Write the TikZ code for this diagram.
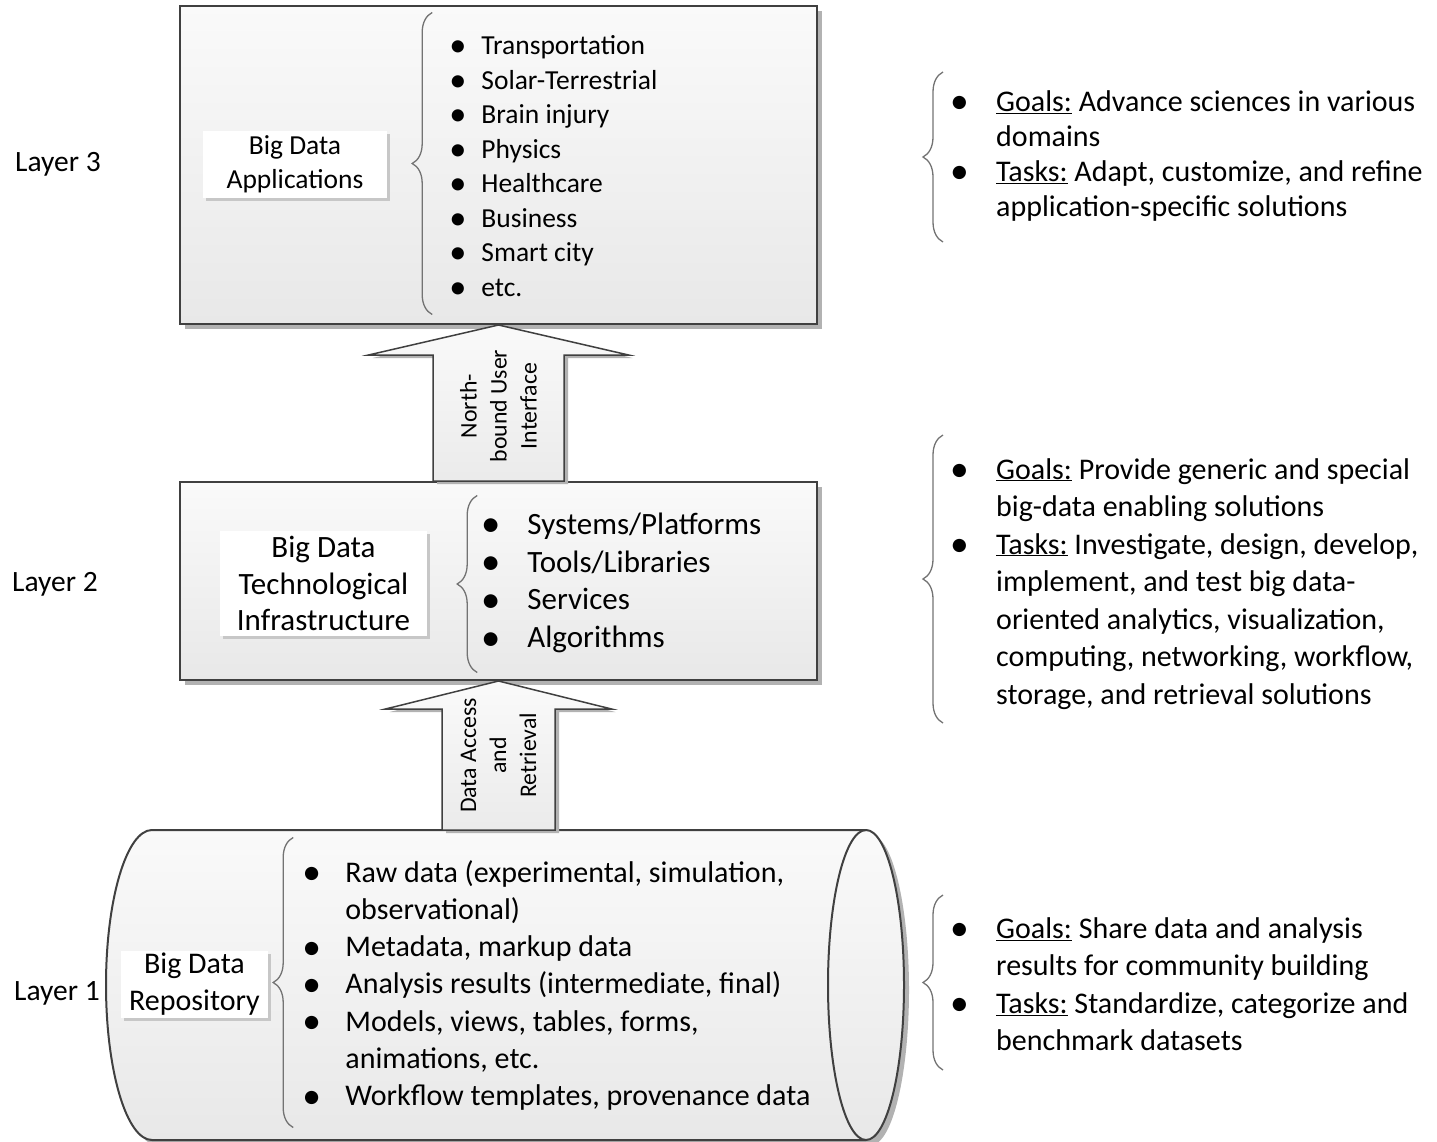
\documentclass[tikz,border=0pt]{standalone}
\usepackage{fontspec}
\setmainfont{Carlito}
\usetikzlibrary{shadows,calc,decorations.pathreplacing,positioning}
\newcommand{\bl}{\raisebox{-0.08em}{\scalebox{1.25}{\textbullet}}}

\begin{document}
\begin{tikzpicture}[x=1pt, y=-1pt,
    layerbox/.style={draw=black!75, line width=2pt, top color=black!2, bottom color=black!9,
      drop shadow={shadow xshift=5pt, shadow yshift=-5pt, fill=black!30, opacity=1}},
    namebox/.style={fill=white, align=center, inner sep=0pt,
      drop shadow={shadow xshift=3pt, shadow yshift=-3pt, fill=black!22, opacity=1}},
    arrowbox/.style={draw=black!75, line width=1.5pt, top color=black!2, bottom color=black!8,
      drop shadow={shadow xshift=4pt, shadow yshift=-3pt, fill=black!30, opacity=1}},
    grbrace/.style={draw=black!55, line width=1.3pt, decorate, decoration={brace, amplitude=20pt}},
    arrowtext/.style={rotate=90, align=center, font=\fontsize{23.8}{30}\selectfont},
    layertext/.style={font=\fontsize{29.5}{36}\selectfont}
  ]
    \useasboundingbox (0,0) rectangle (1437,1142);

    \node[layerbox, minimum width=637pt, minimum height=318pt] (app) at (498.5,165) {};
    \node[layerbox, minimum width=637pt, minimum height=198pt] (tech) at (498.5,581) {};
    \node[minimum width=714pt, minimum height=310pt, inner sep=0pt, outer sep=0pt] (repo) at (509,985) {};
    \draw[layerbox] (repo.north west) arc[start angle=270, end angle=90, x radius=46, y radius=155]
      -- (repo.south east) arc[start angle=90, end angle=-90, x radius=38, y radius=155] -- cycle;
    \draw[draw=black!75, line width=2pt] (repo.north east) arc[start angle=270, end angle=90, x radius=38, y radius=155];

    \node[layertext] (layer3) at (58,164) {Layer 3};
    \node[layertext] (layer2) at (55,584) {Layer 2};
    \node[layertext] (layer1) at (57,993) {Layer 1};

    \node[namebox, minimum width=184pt, minimum height=67pt, font=\fontsize{27.5}{34}\selectfont] (appname) at (295,164.5) {Big Data\\Applications};
    \node[namebox, minimum width=207pt, minimum height=105pt, font=\fontsize{31}{36.5}\selectfont] (techname) at (323.5,583.5) {Big Data\\Technological\\Infrastructure};
    \node[namebox, minimum width=147pt, minimum height=67pt, font=\fontsize{30}{37}\selectfont] (reponame) at (194.5,984.5) {Big Data\\Repository};

    \node[right=62pt of appname, yshift=-4pt, inner sep=0pt, font=\fontsize{27.5}{34.5}\selectfont] (applist) {%
      \begin{tabular}{@{}p{32pt}@{}l@{}}
        \bl & Transportation\\
        \bl & Solar-Terrestrial\\
        \bl & Brain injury\\
        \bl & Physics\\
        \bl & Healthcare\\
        \bl & Business\\
        \bl & Smart city\\
        \bl & etc.
      \end{tabular}};
    \node[right=54pt of techname, inner sep=0pt, font=\fontsize{31}{37.7}\selectfont] (techlist) {%
      \begin{tabular}{@{}p{46pt}@{}l@{}}
        \bl & Systems/Platforms\\
        \bl & Tools/Libraries\\
        \bl & Services\\
        \bl & Algorithms
      \end{tabular}};
    \node[right=34pt of reponame, yshift=-2pt, inner sep=0pt, font=\fontsize{30}{37.3}\selectfont] (repolist) {%
      \begin{tabular}{@{}p{43pt}@{}l@{}}
        \bl & Raw data (experimental, simulation,\\
            & observational)\\
        \bl & Metadata, markup data\\
        \bl & Analysis results (intermediate, final)\\
        \bl & Models, views, tables, forms,\\
            & animations, etc.\\
        \bl & Workflow templates, provenance data
      \end{tabular}};

    \draw[grbrace] ($(applist.west)+(-17,146)$) -- ($(applist.west)+(-17,-156)$);
    \draw[grbrace] ($(techlist.west)+(-4,89)$) -- ($(techlist.west)+(-4,-88)$);
    \draw[grbrace] ($(repolist.west)+(-9,141)$) -- ($(repolist.west)+(-9,-149)$);

    \node[anchor=west, inner sep=0pt, font=\fontsize{30}{35}\selectfont] (goals3) at (950,157) {%
      \begin{tabular}{@{}p{46pt}@{}l@{}}
        \bl & \underline{Goals:} Advance sciences in various\\
            & domains\\
        \bl & \underline{Tasks:} Adapt, customize, and refine\\
            & application-specific solutions
      \end{tabular}};
    \node[anchor=west, inner sep=0pt, font=\fontsize{30}{37.5}\selectfont] (goals2) at (950,584) {%
      \begin{tabular}{@{}p{46pt}@{}l@{}}
        \bl & \underline{Goals:} Provide generic and special\\
            & big-data enabling solutions\\
        \bl & \underline{Tasks:} Investigate, design, develop,\\
            & implement, and test big data-\\
            & oriented analytics, visualization,\\
            & computing, networking, workflow,\\
            & storage, and retrieval solutions
      \end{tabular}};
    \node[anchor=west, inner sep=0pt, font=\fontsize{30}{37.5}\selectfont] (goals1) at (950,987) {%
      \begin{tabular}{@{}p{46pt}@{}l@{}}
        \bl & \underline{Goals:} Share data and analysis\\
            & results for community building\\
        \bl & \underline{Tasks:} Standardize, categorize and\\
            & benchmark datasets
      \end{tabular}};

    \draw[grbrace] ($(goals3.west)+(-7,85)$) -- ($(goals3.west)+(-7,-85)$);
    \draw[grbrace] ($(goals2.west)+(-7,139)$) -- ($(goals2.west)+(-7,-149)$);
    \draw[grbrace] ($(goals1.west)+(-7,83)$) -- ($(goals1.west)+(-7,-92)$);

    \draw[arrowbox] ($(tech.north)+(-65.5,0)$) -- ($(app.south)+(-65.5,30)$) -- ($(app.south)+(-130,30)$)
      -- (app.south) -- ($(app.south)+(130,30)$) -- ($(app.south)+(65.5,30)$) -- ($(tech.north)+(65.5,0)$) -- cycle;
    \draw[arrowbox] ($(tech.south |- repo.north)+(-56.5,0)$) -- ($(tech.south)+(-56.5,28)$) -- ($(tech.south)+(-113,28)$)
      -- (tech.south) -- ($(tech.south)+(113,28)$) -- ($(tech.south)+(56.5,28)$) -- ($(tech.south |- repo.north)+(56.5,0)$) -- cycle;

    \node[arrowtext] (nbui) at ($(app.south)!0.52!(tech.north)$) {North-\\bound User\\Interface};
    \node[arrowtext] (dar) at ($(tech.south)!0.5!(tech.south |- repo.north)$) {Data Access\\and\\Retrieval};
\end{tikzpicture}
\end{document}
